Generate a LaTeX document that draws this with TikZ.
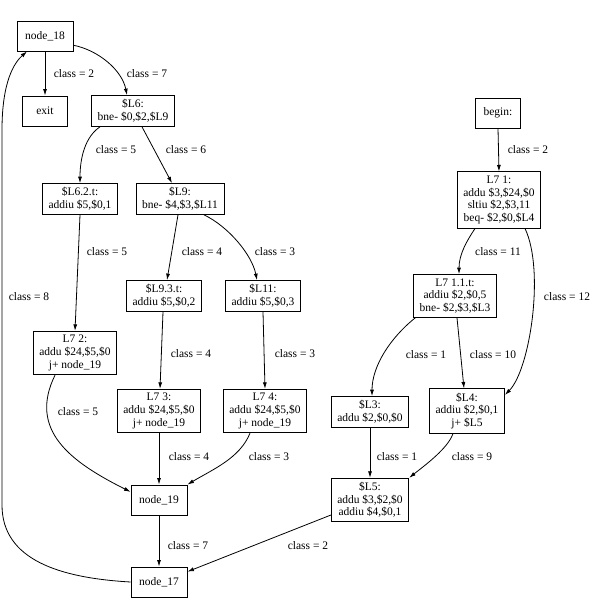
\documentclass[tikz,border=0pt]{standalone}
\usepackage{fontspec}
\setmainfont{Liberation Serif}
\usetikzlibrary{arrows.meta}

\tikzset{
  blk/.style={draw, line width=0.9pt, align=center, inner xsep=6pt, inner ysep=4pt,
    font=\fontsize{11.5}{12.7}\selectfont},
  onebox/.style={blk, minimum height=30pt, minimum width=45pt},
  namebox/.style={onebox, minimum width=56pt},
  lbl/.style={font=\fontsize{11.5}{12.7}\selectfont, inner sep=0pt},
  cfarrow/.style={-{Latex[length=6.5pt,width=4pt]}, line width=0.8pt},
}

\begin{document}
\begin{tikzpicture}[x=1pt, y=-1pt]
\useasboundingbox (0,0) rectangle (592,604);

% left graph
\node[namebox] (n18) at (45,36) {node\_18};
\node[onebox] (exit) at (45,111) {exit};
\node[blk] (L6) at (133,111) {\$L6:\\bne- \$0,\$2,\$L9};
\node[blk] (L62) at (80,199) {\$L6.2.t:\\addiu \$5,\$0,1};
\node[blk] (L9) at (180,199) {\$L9:\\bne- \$4,\$3,\$L11};
\node[blk] (L93) at (164,296) {\$L9.3.t:\\addiu \$5,\$0,2};
\node[blk] (L11) at (263,296) {\$L11:\\addiu \$5,\$0,3};
\node[blk] (L72) at (75,353) {L7 2:\\addu \$24,\$5,\$0\\j+ node\_19};
\node[blk] (L73) at (159,411) {L7 3:\\addu \$24,\$5,\$0\\j+ node\_19};
\node[blk] (L74) at (265,411) {L7 4:\\addu \$24,\$5,\$0\\j+ node\_19};
\node[namebox] (n19) at (159,500) {node\_19};
\node[namebox] (n17) at (159,582) {node\_17};

% right graph
\node[onebox] (begin) at (498,113) {begin:};
\node[blk] (L71) at (499,200) {L7 1:\\addu \$3,\$24,\$0\\sltiu \$2,\$3,11\\beq- \$2,\$0,\$L4};
\node[blk] (L711) at (455,296) {L7 1.1.t:\\addiu \$2,\$0,5\\bne- \$2,\$3,\$L3};
\node[blk] (L3) at (370,412) {\$L3:\\addu \$2,\$0,\$0};
\node[blk] (L4) at (467,411) {\$L4:\\addiu \$2,\$0,1\\j+ \$L5};
\node[blk] (L5) at (370,500) {\$L5:\\addu \$3,\$2,\$0\\addiu \$4,\$0,1};

\coordinate (lowbend) at (2,505);
\coordinate (highbend) at (2,130);

\draw[cfarrow] (n18.south) -- (exit.north);
\draw[cfarrow] (n18.-18) .. controls +(25,5) and +(-5,-25) .. ([xshift=-6pt]L6.north);
\draw[cfarrow] ([xshift=-33pt]L6.south) .. controls +(-15,10) and +(0,-25) .. (L62.north);
\draw[cfarrow] ([xshift=9pt]L6.south) -- ([xshift=-8pt]L9.north);
\draw[cfarrow] (L62.south) -- (L72.north);
\draw[cfarrow] ([xshift=-2pt]L9.south) -- ([xshift=3pt]L93.north);
\draw[cfarrow] ([xshift=24pt]L9.south) .. controls +(25,12) and +(-5,-25) .. ([xshift=-6pt]L11.north);
\draw[cfarrow] ([xshift=-1pt]L93.south) -- ([xshift=1pt]L73.north);
\draw[cfarrow] (L11.south) -- (L74.north);
\draw[cfarrow] ([xshift=-20pt]L72.south) .. controls +(-27,55) and +(-60,-30) .. (n19.164);
\draw[cfarrow] (L73.south) -- (n19.north);
\draw[cfarrow] ([xshift=-15pt]L74.south) .. controls +(-10,25) and +(25,-15) .. (n19.north east);
\draw[cfarrow] (n19.south) -- (n17.north);
\draw[cfarrow] (L5.201) -- (n17.20);
\draw[cfarrow] (n17.west) .. controls (60,578) and (2,560) .. (lowbend) -- (highbend)
  .. controls (2,80) and (15,62) .. ([xshift=-18pt]n18.south);

\draw[cfarrow] (begin.south) -- (L71.north);
\draw[cfarrow] ([xshift=-24pt]L71.south) .. controls +(-8,12) and +(0,-20) .. ([xshift=4pt]L711.north);
\draw[cfarrow] ([xshift=26pt]L71.south) .. controls +(20,42) and +(25,-25) .. (L4.23);
\draw[cfarrow] ([xshift=2pt]L711.south west) .. controls +(-25,20) and +(0,-30) .. ([xshift=2pt]L3.north);
\draw[cfarrow] ([xshift=2pt]L711.south) -- ([xshift=-3pt]L4.north);
\draw[cfarrow] (L3.south) -- (L5.north);
\draw[cfarrow] ([xshift=-14pt]L4.south) .. controls +(-5,15) and +(15,-12) .. (L5.north east);

% edge labels
\foreach \x/\y/\t [count=\i] in {74/74/2, 147/74/7, 116/150/5, 186/150/6,
    107/252/5, 202/252/4, 275/252/3, 29/297/8, 191/354/4, 295/354/3,
    78/412/5, 189/457/4, 269/457/3, 188/546/7, 308/546/2,
    528/150/2, 498/252/11, 567/297/12, 426/355/1, 493/355/10,
    397/457/1, 472/457/9}
  \node[lbl] (lab\i) at (\x,\y) {class = \t};
\end{tikzpicture}
\end{document}
